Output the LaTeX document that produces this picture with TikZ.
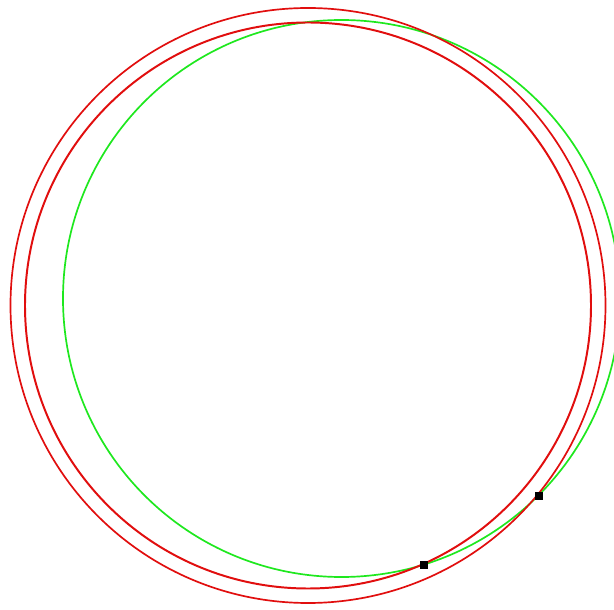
\documentclass[tikz,border=0pt]{standalone}
\usetikzlibrary{positioning}
\definecolor{ringred}{RGB}{225,14,14}
\definecolor{ringgreen}{RGB}{30,232,30}

\begin{document}
\begin{tikzpicture}[x=0.025cm, y=-0.025cm,
    ring/.style={line width=1.2pt},
    touch/.style={draw=black, fill=black, rectangle, inner sep=0pt,
                  minimum size=0.17cm}]
  % frame of the picture
  \clip (0,0) rectangle (614,610);
  \fill[white] (0,0) rectangle (614,610);

  % the three circles
  \draw[ring, ringgreen] (341.5,298.5) circle (278.5);
  \draw[ring, ringred] (308,305.5) circle (297.5);
  \draw[ring, ringred, line width=1.4pt] (308,305.5) circle (283);

  % contact points
  \node[touch] (inner touch) at (424,565) {};
  \node[touch] (outer touch) at (538.5,496) {};
\end{tikzpicture}
\end{document}
